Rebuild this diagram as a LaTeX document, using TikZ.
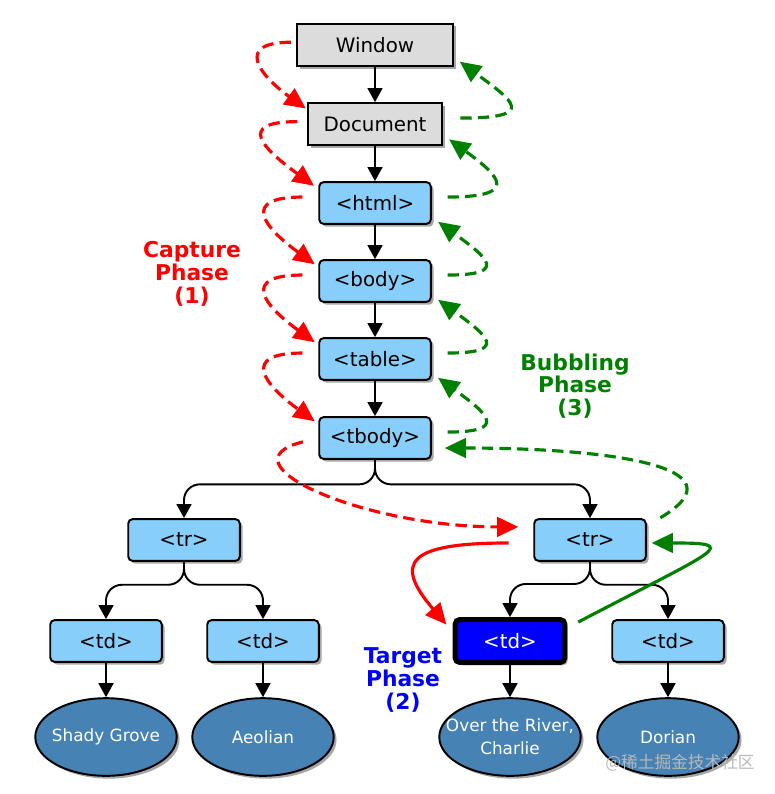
\documentclass[tikz,border=0pt]{standalone}
\usepackage{fontspec}
\setmainfont{DejaVu Sans}
\newfontfamily\cjkfont{Noto Sans CJK SC}
\usetikzlibrary{arrows.meta,shadows,calc,shapes.geometric}
\definecolor{boxblue}{RGB}{135,206,250}
\definecolor{boxgray}{RGB}{220,220,220}
\definecolor{ellblue}{RGB}{70,130,180}
\definecolor{capred}{RGB}{255,0,0}
\definecolor{bubgreen}{RGB}{0,128,0}
\definecolor{tgtblue}{RGB}{0,0,255}
\begin{document}
\begin{tikzpicture}[x=0.02cm,y=0.02cm,
  shade/.style={drop shadow={shadow xshift=1.6pt,shadow yshift=-1.6pt,fill=black,opacity=0.35}},
  boxtext/.style={font=\fontsize{11.3}{12}\selectfont},
  graybox/.style={draw=black,line width=1.1pt,fill=boxgray,inner sep=0pt,boxtext,shade},
  bluebox/.style={draw=black,line width=1.1pt,fill=boxblue,rounded corners=2.5pt,minimum width=63.5pt,minimum height=23.8pt,inner sep=0pt,boxtext,shade},
  tgtbox/.style={draw=black,line width=2.8pt,fill=tgtblue,text=white,rounded corners=2.5pt,minimum width=62.4pt,minimum height=24.4pt,inner sep=0pt,boxtext,shade},
  leaf/.style={ellipse,draw=black,line width=1.1pt,fill=ellblue,minimum width=80.5pt,minimum height=44.2pt,inner sep=0pt,shade},
  leaftext/.style={text=white,align=center,inner sep=0pt,font=\fontsize{9.6}{13}\selectfont},
  tree/.style={draw=black,line width=1.1pt,-{Triangle[length=8pt,width=8.5pt]}},
  branch/.style={tree,rounded corners=9pt},
  capt/.style={draw=capred,line width=1.8pt,dash pattern=on 6.5pt off 3.5pt,-{Triangle[length=12pt,width=11pt]}},
  bubb/.style={draw=bubgreen,line width=1.8pt,dash pattern=on 6.5pt off 3.5pt,-{Triangle[length=12pt,width=11pt]}},
  captsolid/.style={draw=capred,line width=1.8pt,-{Triangle[length=12pt,width=11pt]}},
  bubbsolid/.style={draw=bubgreen,line width=1.8pt,-{Triangle[length=12pt,width=11pt]}},
  phase/.style={align=center,font=\fontsize{12.4}{13}\selectfont\bfseries,inner sep=0pt}
]
\useasboundingbox (0,0) rectangle (774,-794);

% nodes
\node[graybox,minimum width=89pt,minimum height=24.4pt] (win) at (375,-45) {Window};
\node[graybox,minimum width=76pt,minimum height=23.8pt] (doc) at (375,-124) {Document};
\node[bluebox] (html) at (375,-203) {<html>};
\node[bluebox] (body) at (375,-281) {<body>};
\node[bluebox] (table) at (375,-359) {<table>};
\node[bluebox] (tbody) at (375,-438) {<tbody>};
\node[bluebox] (trL) at (184,-540) {<tr>};
\node[bluebox] (trR) at (590,-540) {<tr>};
\node[bluebox] (tdA) at (106,-641) {<td>};
\node[bluebox] (tdB) at (263,-641) {<td>};
\node[tgtbox] (tdT) at (510,-641) {<td>};
\node[bluebox] (tdD) at (668,-641) {<td>};
\node[leaf,label={[leaftext]center:Shady Grove}] (eA) at (106,-737) {};
\node[leaf,label={[leaftext]center:Aeolian}] (eB) at (263,-737) {};
\node[leaf,label={[leaftext]center:Over the River,\\Charlie}] (eT) at (510,-737) {};
\node[leaf,label={[leaftext]center:Dorian}] (eD) at (668,-737) {};

% labels
\node[phase,text=capred] (lcap) at (192,-274) {Capture\\Phase\\(1)};
\node[phase,text=bubgreen] (lbub) at (575,-386) {Bubbling\\Phase\\(3)};
\node[phase,text=tgtblue] (ltgt) at (403,-680) {Target\\Phase\\(2)};
\node[font=\cjkfont\fontsize{9.5}{10}\selectfont,text=gray!55,inner sep=0pt] (wm) at (680,-763) {@稀土掘金技术社区};

% tree connectors
\draw[tree] (win) -- (doc);
\draw[tree] (doc) -- (html);
\draw[tree] (html) -- (body);
\draw[tree] (body) -- (table);
\draw[tree] (table) -- (tbody);
\draw[branch] (tbody.south) |- ($(tbody.south)!0.42!(trL.north)$) -| (trL.north);
\draw[branch] (tbody.south) |- ($(tbody.south)!0.42!(trR.north)$) -| (trR.north);
\draw[branch] (trL.south) |- ($(trL.south)!0.4!(tdA.north)$) -| (tdA.north);
\draw[branch] (trL.south) |- ($(trL.south)!0.4!(tdB.north)$) -| (tdB.north);
\draw[branch] (trR.south) |- ($(trR.south)!0.4!(tdT.north)$) -| (tdT.north);
\draw[branch] (trR.south) |- ($(trR.south)!0.4!(tdD.north)$) -| (tdD.north);
\draw[tree] (tdA) -- (eA);
\draw[tree] (tdB) -- (eB);
\draw[tree] (tdT) -- (eT);
\draw[tree] (tdD) -- (eD);

% capture (red)
\draw[capt,shorten <=2.8pt,shorten >=1pt] (win.178) .. controls +(-60,0) and +(-50,36) .. (doc.168);
\draw[capt,shorten <=5.7pt,shorten >=3pt] (doc.178) .. controls +(-72,0) and +(-55,40) .. (html.166);
\draw[capt,shorten <=9pt,shorten >=2.5pt] (html.174) .. controls +(-78,0) and +(-55,40) .. (body.166);
\draw[capt,shorten <=9pt,shorten >=2.5pt] (body.174) .. controls +(-78,0) and +(-55,40) .. (table.166);
\draw[capt,shorten <=9pt,shorten >=2.5pt] (table.174) .. controls +(-78,0) and +(-55,40) .. (tbody.166);
\draw[capt,shorten <=9pt,shorten >=8.5pt] (tbody.180) .. controls +(-100,-25) and +(-170,0) .. (trR.167);
\draw[captsolid,shorten <=14pt,shorten >=5.5pt] (trR.183) .. controls +(-125,0) and +(-60,70) .. (tdT.171);

% bubbling (green)
\draw[bubb,shorten <=10pt,shorten >=4pt] (doc.5) .. controls +(95,0) and +(60,-44) .. (win.-9);
\draw[bubb,shorten <=9pt,shorten >=4.5pt] (html.6) .. controls +(88,0) and +(58,-42) .. (doc.-9);
\draw[bubb,shorten <=9pt,shorten >=4.5pt] (body.6) .. controls +(78,0) and +(55,-40) .. (html.-14);
\draw[bubb,shorten <=9pt,shorten >=4.5pt] (table.6) .. controls +(78,0) and +(55,-40) .. (body.-14);
\draw[bubb,shorten <=9pt,shorten >=4.5pt] (tbody.6) .. controls +(78,0) and +(55,-40) .. (table.-14);
\draw[bubb,shorten <=9pt,shorten >=7.4pt] (trR.14) .. controls +(101,60) and +(173,0) .. (tbody.-10);
\draw[bubbsolid,shorten <=7pt,shorten >=2.8pt] (tdT.13) .. controls +(153,80) and +(95,0) .. (trR.-3);
\end{tikzpicture}
\end{document}
